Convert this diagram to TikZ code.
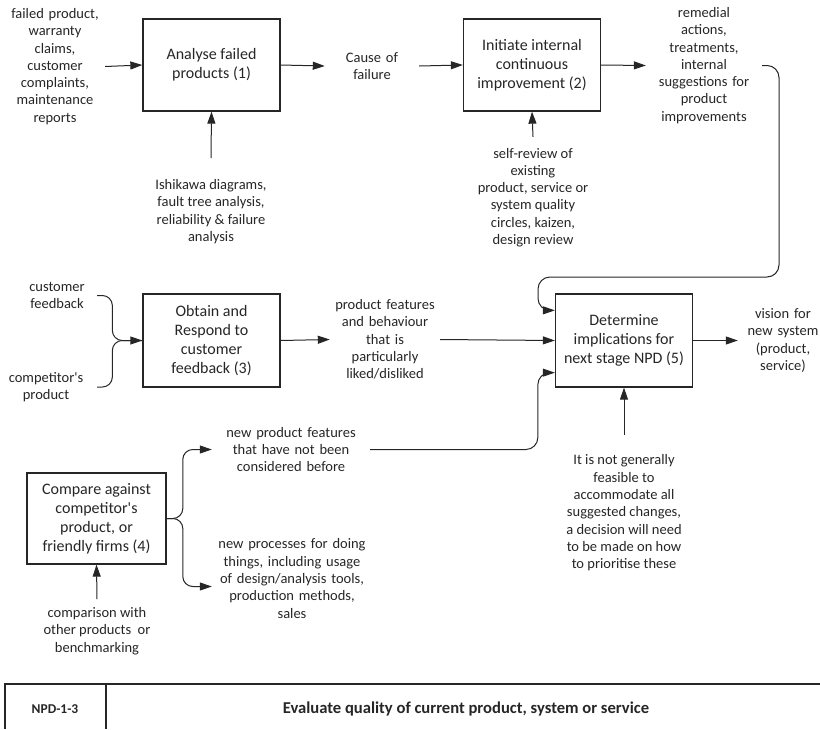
\documentclass[tikz,border=0pt]{standalone}
\usepackage{fontspec}
\setmainfont{Carlito}
\usepackage{xcolor}
\usepackage{tikz}
\usetikzlibrary{arrows.meta,positioning,calc}
\definecolor{npdink}{HTML}{262626}
\newcommand{\boxfont}{\fontsize{16}{19}\selectfont}
\newcommand{\lblfont}{\fontsize{14.5}{17.3}\selectfont}

\begin{document}
\begin{tikzpicture}[
    x=1pt,y=-1pt,
    act/.style  = {draw=npdink, line width=1.3pt, align=center, font=\boxfont,
                   text=npdink, minimum width=137pt, minimum height=92pt,
                   inner sep=2pt},
    lbl/.style  = {align=center, font=\lblfont, text=npdink, inner sep=0pt},
    flow/.style = {-{Triangle[length=12pt,width=8pt]}, draw=npdink, line width=1pt},
    link/.style = {draw=npdink, line width=1pt},
    rule/.style = {draw=npdink, line width=1.3pt},
  ]
  \useasboundingbox (0,0) rectangle (820,729);

  % activities
  \node[act] (ana) at (211.5,65)  {Analyse failed\\products (1)};
  \node[act] (ini) at (532,65)    {Initiate internal\\continuous\\improvement (2)};
  \node[act, minimum height=93pt] (obt) at (211.5,340.5) {Obtain and\\Respond to\\customer\\feedback (3)};
  \node[act, minimum height=93pt] (det) at (624,340.5)   {Determine\\implications for\\next stage NPD (5)};
  \node[act, minimum width=139pt, minimum height=91pt] (cmp) at (96.5,518.5)
       {Compare against\\competitor\textquotesingle s\\product, or\\friendly firms (4)};

  % inputs, outputs and mechanisms
  \node[lbl, text width=100pt] (fin) at (55,66.5)
       {failed product,\\warranty\\claims,\\customer\\complaints,\\maintenance\\reports};
  \node[lbl, text width=94pt]  (cau) at (372,66)  {Cause of\\failure};
  \node[lbl, text width=116pt] (rem) at (704,65.5)
       {remedial\\actions,\\treatments,\\internal\\suggestions for\\product\\improvements};
  \node[lbl] (ish) at (211,211.5)
       {Ishikawa diagrams,\\fault tree analysis,\\reliability \& failure\\analysis};
  \node[lbl] (rev) at (533,197.5)
       {self-review of\\existing\\product, service or\\system quality\\circles, kaizen,\\design review};
  \node[lbl, text width=80pt]  (cfb) at (57,295.5)  {customer\\feedback};
  \node[lbl, text width=102pt] (cpp) at (46,387)    {competitor\textquotesingle s\\product};
  \node[lbl, text width=110pt] (fea) at (385,339.5)
       {product features\\and behaviour\\that is\\particularly\\liked/disliked};
  \node[lbl, text width=90pt]  (vis) at (783,340.5) {vision for\\new system\\(product,\\service)};
  \node[lbl] (fsb) at (624,513)
       {It is not generally\\feasible to\\accommodate all\\suggested changes,\\a decision will need\\to be made on how\\to prioritise these};
  \node[lbl, text width=158pt] (nfe) at (291,449.5)
       {new product features\\that have not been\\considered before};
  \node[lbl, text width=160pt] (npr) at (292,578.5)
       {new processes for doing\\things, including usage\\of design/analysis tools,\\production methods,\\sales};
  \node[lbl] (cpw) at (97,631)
       {comparison with\\other products\ \ or\\benchmarking};

  % connectors
  \draw[flow] (fin.east) -- (ana.west);
  \draw[flow] (ana.east) -- (cau.west);
  \draw[flow] (cau.east) -- (ini.west);
  \draw[flow] (ini.east) -- (rem.west);
  \draw[flow] ([yshift=21pt]ish.north) -- (ana.south);
  \draw[flow] ([yshift=11pt]rev.north) -- (ini.south);

  \coordinate (dtop) at ($(det.north west)+(0,17)$);
  \coordinate (dbot) at ($(det.south west)+(0,-15)$);
  \draw[flow, rounded corners=12pt] (rem.east) -| (779,277) -- (538,277) |- (dtop);

  \draw[flow, rounded corners=10pt] (cfb.east) -| ([xshift=-30pt]obt.west) -- (obt.west);
  \draw[link, rounded corners=10pt] (cpp.east) -| ([xshift=-30pt]obt.west) -- (obt.west);
  \draw[flow] (obt.east) -- (fea.west);
  \draw[flow] (fea.east) -- (det.west);
  \draw[flow] (det.east) -- (vis.west);
  \draw[flow] ([yshift=20pt]fsb.north) -- (det.south);

  \draw[flow, rounded corners=10pt] (cmp.east) -| ([xshift=-29pt]nfe.west) -- (nfe.west);
  \draw[flow, rounded corners=10pt] (cmp.east) -| ([xshift=-29pt,yshift=-8pt]npr.west)
       -- ([yshift=-8pt]npr.west);
  \draw[flow, rounded corners=12pt] (nfe.east) -| ($(dbot)+(-17,0)$) -- (dbot);
  \draw[flow] ([yshift=8pt]cpw.north) -- (cmp.south);

  % title strip
  \draw[rule] (5,729) |- (820,684);
  \draw[rule] (106,684) -- (106,729);
  \node[font=\fontsize{13.5}{16}\selectfont\bfseries, text=npdink] (code) at (55,709) {NPD-1-3};
  \node[font=\fontsize{16.6}{19}\selectfont\bfseries, text=npdink] (ttl) at (466,709)
       {Evaluate quality of current product, system or service};

\end{tikzpicture}
\end{document}
